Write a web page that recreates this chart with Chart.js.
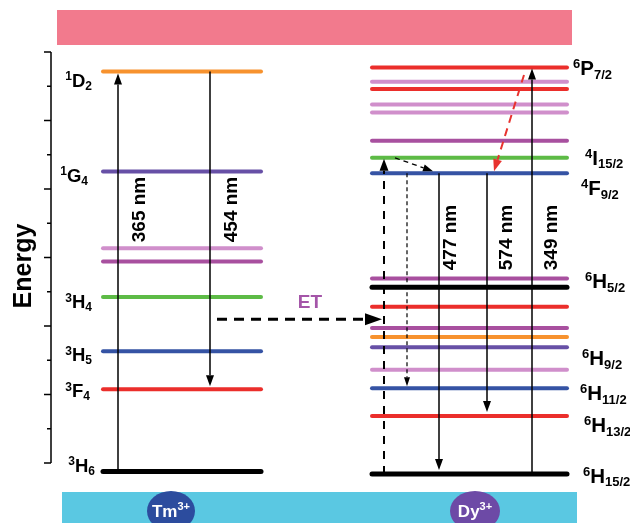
<!DOCTYPE html>
<html>
<head>
<meta charset="utf-8">
<script src="https://cdn.jsdelivr.net/npm/chart.js@4"></script>
<style>
  html, body { margin: 0; padding: 0; background: #fff; }
</style>
</head>
<body>
<canvas id="chart" width="630" height="523"></canvas>
<script>
// energies in axis units (one tick = 1)
const tmTerms  = ['1D2', '1G4', '', '', '3H4', '3H5', '3F4', '3H6'];
const tmEnergy = [11.43, 8.51, 6.27, 5.88, 4.85, 3.26, 2.15, -0.25];
const tmColors = ['#f7922e', '#6750a6', '#d08fcb', '#a8509f', '#5dbb46', '#3553a4', '#eb2e2b', '#000000'];

const dyTerms  = ['6P7/2', '', '', '', '', '', '4I15/2', '4F9/2', '6H5/2', '', '', '', '', '6H9/2', '', '6H11/2', '6H13/2', '6H15/2'];
const dyEnergy = [11.55, 11.13, 10.92, 10.47, 10.23, 9.41, 8.91, 8.46, 5.39, 5.13, 4.56, 3.94, 3.68, 3.38, 2.72, 2.18, 1.37, -0.32];
const dyColors = ['#eb2e2b', '#d08fcb', '#eb2e2b', '#d08fcb', '#d08fcb', '#a8509f', '#5dbb46', '#3553a4', '#a8509f', '#000000',
                  '#eb2e2b', '#a8509f', '#f7922e', '#6750a6', '#d08fcb', '#3553a4', '#eb2e2b', '#000000'];

const energyTicks = [0, 1, 2, 3, 4, 5, 6, 7, 8, 9, 10, 11, 12];
const etEnergy = 4.2;

// transitions: [label, fromIndex, toIndex]
const tmTransitions = [['365 nm', 7, 0], ['454 nm', 0, 6]];
const dyTransitions = [['477 nm', 7, 17], ['574 nm', 7, 16], ['349 nm', 17, 0]];

const FONT = '"Liberation Sans", Arial, sans-serif';

// layout (pixels)
const tmX = [103, 261], dyX = [372, 567];
const tmArrowX = [118, 210], dyArrowX = [439, 487, 532];
const tmTextX = [145, 237], dyTextX = [456, 512, 557];
const tmLabelPos = { '1D2': [92, 15], '1G4': [88, 10], '3H4': [92, 11], '3H5': [92, 10], '3F4': [90, 7.5], '3H6': [95, 0] };
const dyLabelPos = { '6P7/2': [573, 8], '4I15/2': [585, 7], '4F9/2': [581, 22], '6H5/2': [585, 10],
                     '6H9/2': [582, 18], '6H11/2': [580, 12], '6H13/2': [584, 16], '6H15/2': [583, 9] };

function levelSets(energy, colors, xs) {
  return energy.map((e, i) => ({
    data: [{ x: xs[0], y: e }, { x: xs[1], y: e }],
    borderColor: colors[i],
    borderWidth: colors[i] === '#000000' ? 5 : 4,
    borderCapStyle: 'round',
    pointRadius: 0,
    showLine: true,
    fill: false
  }));
}

function arrow(ctx, x0, y0, x1, y1, o) {
  const ang = Math.atan2(y1 - y0, x1 - x0);
  const hl = o.head || 11, hw = o.headW || 4;
  const bx = x1 - Math.cos(ang) * hl, by = y1 - Math.sin(ang) * hl;
  ctx.save();
  ctx.strokeStyle = o.color || '#000';
  ctx.fillStyle = o.color || '#000';
  ctx.lineWidth = o.width || 1.5;
  ctx.setLineDash(o.dash || []);
  ctx.beginPath();
  ctx.moveTo(x0, y0);
  ctx.lineTo(bx, by);
  ctx.stroke();
  ctx.setLineDash([]);
  ctx.beginPath();
  ctx.moveTo(x1, y1);
  ctx.lineTo(bx + Math.sin(ang) * hw, by - Math.cos(ang) * hw);
  ctx.lineTo(bx - Math.sin(ang) * hw, by + Math.cos(ang) * hw);
  ctx.closePath();
  ctx.fill();
  ctx.restore();
}

function term(ctx, s, x, base, size, align) {
  const sup = s[0], main = s[1], sub = s.slice(2);
  const small = Math.round(size * 0.64);
  ctx.font = 'bold ' + small + 'px ' + FONT;
  const wSup = ctx.measureText(sup).width, wSub = ctx.measureText(sub).width;
  ctx.font = 'bold ' + size + 'px ' + FONT;
  const wMain = ctx.measureText(main).width;
  let x0 = align === 'right' ? x - wSup - wMain - wSub : x;
  ctx.textAlign = 'left';
  ctx.textBaseline = 'alphabetic';
  ctx.fillStyle = '#000';
  ctx.font = 'bold ' + small + 'px ' + FONT;
  ctx.fillText(sup, x0, base - size * 0.34);
  ctx.font = 'bold ' + size + 'px ' + FONT;
  ctx.fillText(main, x0 + wSup, base);
  ctx.font = 'bold ' + small + 'px ' + FONT;
  ctx.fillText(sub, x0 + wSup + wMain, base + size * 0.17);
}

function vText(ctx, text, x, y, size) {
  ctx.save();
  ctx.translate(x, y);
  ctx.rotate(-Math.PI / 2);
  ctx.font = 'bold ' + size + 'px ' + FONT;
  ctx.fillStyle = '#000';
  ctx.textAlign = 'center';
  ctx.textBaseline = 'alphabetic';
  ctx.fillText(text, 0, 0);
  ctx.restore();
}

function ionBadge(ctx, name, cx, rx, color) {
  ctx.save();
  ctx.fillStyle = color;
  ctx.beginPath();
  ctx.ellipse(cx, 511, rx, 20, 0, 0, Math.PI * 2);
  ctx.fill();
  ctx.fillStyle = '#fff';
  ctx.textBaseline = 'alphabetic';
  ctx.font = 'bold 17px ' + FONT;
  const w = ctx.measureText(name).width;
  ctx.font = 'bold 11px ' + FONT;
  const w2 = ctx.measureText('3+').width;
  const x0 = cx - (w + w2) / 2;
  ctx.font = 'bold 17px ' + FONT;
  ctx.fillText(name, x0, 516.5);
  ctx.font = 'bold 11px ' + FONT;
  ctx.fillText('3+', x0 + w, 509.5);
  ctx.restore();
}

const diagram = {
  id: 'diagram',
  beforeDatasetsDraw(chart) {
    const ctx = chart.ctx, y = chart.scales.y;
    // bands
    ctx.save();
    ctx.fillStyle = '#f27a8d';
    ctx.fillRect(57, 10, 515, 35);
    ctx.fillStyle = '#5ac8e2';
    ctx.fillRect(62, 492, 515, 31);
    // energy axis
    ctx.strokeStyle = '#000';
    ctx.lineWidth = 1.5;
    ctx.beginPath();
    ctx.moveTo(51, y.getPixelForValue(energyTicks[energyTicks.length - 1]));
    ctx.lineTo(51, y.getPixelForValue(energyTicks[0]));
    energyTicks.forEach(t => {
      const py = y.getPixelForValue(t);
      ctx.moveTo(51, py);
      ctx.lineTo(t % 2 === 0 ? 44 : 47, py);
    });
    ctx.stroke();
    ctx.restore();
    vText(ctx, 'Energy', 31, 266, 25);
  },
  afterDatasetsDraw(chart) {
    const ctx = chart.ctx, y = chart.scales.y;
    const py = v => y.getPixelForValue(v);

    // Tm transitions
    tmTransitions.forEach((t, i) => {
      const up = tmEnergy[t[2]] > tmEnergy[t[1]];
      const y0 = py(tmEnergy[t[1]]), y1 = py(tmEnergy[t[2]]) + (up ? 2 : -3);
      arrow(ctx, tmArrowX[i], y0, tmArrowX[i], y1, { width: 1.5 });
      vText(ctx, t[0], tmTextX[i], 209.5, 19);
    });
    // Dy transitions
    dyTransitions.forEach((t, i) => {
      const up = dyEnergy[t[2]] > dyEnergy[t[1]];
      const y0 = py(dyEnergy[t[1]]), y1 = py(dyEnergy[t[2]]) + (up ? 1 : -4);
      arrow(ctx, dyArrowX[i], y0, dyArrowX[i], y1, { width: 1.5 });
      vText(ctx, t[0], dyTextX[i], 237.5, 19);
    });

    // excitation of Dy by ET, relaxations
    arrow(ctx, 384, py(dyEnergy[17]), 384, py(dyEnergy[6]) + 1, { width: 2, dash: [8, 7], head: 12, headW: 4.5 });
    arrow(ctx, 395, py(dyEnergy[6]), 433, py(dyEnergy[7]) - 2, { width: 1.3, dash: [5, 4], head: 10, headW: 3.5 });
    arrow(ctx, 407, py(dyEnergy[7]), 407, py(dyEnergy[15]) - 2, { width: 1.2, dash: [4, 3], head: 9, headW: 3 });
    arrow(ctx, 524, py(11.33), 494, py(dyEnergy[7]) - 2, { width: 2, dash: [8, 6], color: '#e8332f', head: 12, headW: 4.5 });

    // energy transfer Tm -> Dy
    arrow(ctx, 217, py(etEnergy), 382, py(etEnergy), { width: 3, dash: [10, 7], head: 17, headW: 6 });
    ctx.save();
    ctx.font = 'bold 19px ' + FONT;
    ctx.fillStyle = '#a455a8';
    ctx.textAlign = 'center';
    ctx.textBaseline = 'alphabetic';
    ctx.fillText('ET', 310, 308);
    ctx.restore();

    // level labels
    tmTerms.forEach((s, i) => {
      if (!s) return;
      const p = tmLabelPos[s];
      term(ctx, s, p[0], py(tmEnergy[i]) + p[1], 18.5, 'right');
    });
    dyTerms.forEach((s, i) => {
      if (!s) return;
      const p = dyLabelPos[s];
      term(ctx, s, p[0], py(dyEnergy[i]) + p[1], 20.5, 'left');
    });

    ionBadge(ctx, 'Tm', 171, 24, '#2c4c9e');
    ionBadge(ctx, 'Dy', 475, 25, '#6d4aa6');
  }
};

new Chart(document.getElementById('chart'), {
  type: 'scatter',
  data: {
    datasets: levelSets(tmEnergy, tmColors, tmX).concat(levelSets(dyEnergy, dyColors, dyX))
  },
  plugins: [diagram],
  options: {
    responsive: false,
    animation: false,
    devicePixelRatio: 1,
    events: [],
    layout: { padding: 0 },
    scales: {
      x: { type: 'linear', display: false, min: 0, max: 630 },
      y: { type: 'linear', display: false, min: -1.752, max: 13.518 }
    },
    plugins: {
      legend: { display: false },
      tooltip: { enabled: false }
    }
  }
});
</script>
</body>
</html>
